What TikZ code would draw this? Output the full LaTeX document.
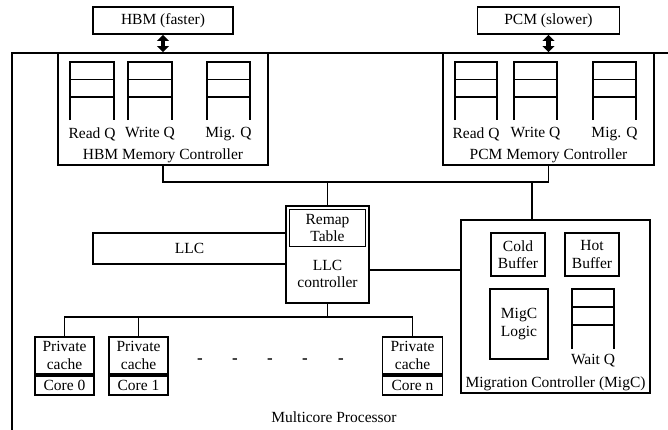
\documentclass[tikz,border=0pt]{standalone}
\usepackage{fontspec}
\setmainfont{Liberation Serif}
\usetikzlibrary{arrows.meta,calc}
\newcommand{\drawqueue}[3]{% x1, x2, ytop
  \draw (#1,#3+58) -- (#1,#3) -- (#2,#3) -- (#2,#3+58);
  \draw (#1,#3+17.5) -- (#2,#3+17.5);
  \draw (#1,#3+35) -- (#2,#3+35);
}
\begin{document}
\begin{tikzpicture}[x=1pt,y=-1pt,line width=1.9pt,
  font=\fontsize{15.5}{17.5}\selectfont,
  box/.style={draw,inner sep=0pt,align=center},
  lbl/.style={inner sep=0pt,align=center},
  dblarrow/.style={line width=4.5pt,{Triangle[width=12pt,length=6pt]}-{Triangle[width=12pt,length=6pt]}}]
\useasboundingbox (0,0) rectangle (668,429);
% outer processor box
\draw (12,440) -- (12,53) -- (680,53);
% memories
\node[box,minimum width=140pt,minimum height=27pt] (hbm) at (163,20.5) {HBM (faster)};
\node[box,minimum width=142pt,minimum height=27pt] (pcm) at (548.5,20.5) {PCM (slower)};
% memory controllers
\node[box,fill=white,minimum width=210pt,minimum height=112pt] (hbmmc) at (163,109) {};
\node[box,fill=white,minimum width=211pt,minimum height=112pt] (pcmmc) at (548.5,109) {};
\draw[dblarrow] (hbm.south) -- (hbmmc.north);
\draw[dblarrow] (pcm.south) -- (pcmmc.north);
% HBM queues
\drawqueue{70}{114}{62}
\drawqueue{128}{172}{62}
\drawqueue{207}{250}{62}
\node[lbl] (hrq) at (92,134) {Read Q};
\node[lbl] (hwq) at (150,134) {Write Q};
\node[lbl] (hmq) at (228.5,134) {Mig. Q};
\node[lbl] (hmcl) at (163,156) {HBM Memory Controller};
% PCM queues
\drawqueue{455}{497}{62}
\drawqueue{514}{557}{62}
\drawqueue{593}{636}{62}
\node[lbl] (prq) at (476,134) {Read Q};
\node[lbl] (pwq) at (535.5,134) {Write Q};
\node[lbl] (pmq) at (614.5,134) {Mig. Q};
\node[lbl] (pmcl) at (548.5,156) {PCM Memory Controller};
% LLC controller
\node[box,minimum width=83pt,minimum height=97pt] (llcctrl) at (327.5,254.5) {};
\node[box,minimum width=76pt,minimum height=37pt] (remap) at (327.5,228) {Remap\\Table};
\node[lbl] (llcctrll) at (327.5,274) {LLC\\controller};
\node[box,minimum width=193pt,minimum height=31pt] (llc) at (189.5,248.5) {LLC};
% Migration controller
\node[box,minimum width=189pt,minimum height=173pt] (migc) at (555.5,306.5) {};
\node[box,minimum width=54pt,minimum height=43pt] (cold) at (518,254.5) {Cold\\Buffer};
\node[box,minimum width=54pt,minimum height=43pt] (hot) at (592,254.5) {Hot\\Buffer};
\node[box,minimum width=58pt,minimum height=70pt] (logic) at (519,324) {MigC\\Logic};
\draw (572,349) -- (572,289) -- (614,289) -- (614,349);
\draw (572,307) -- (614,307);
\draw (572,325) -- (614,325);
\node[lbl] (waitq) at (593,361) {Wait Q};
\node[lbl] (migcl) at (555.5,384) {Migration Controller (MigC)};
% cores
\node[box,minimum width=59pt,minimum height=37pt] (pc0) at (64.5,355.5) {Private\\cache};
\node[box,minimum width=59pt,minimum height=19pt,anchor=north] (c0) at (pc0.south) {Core 0};
\node[box,minimum width=59pt,minimum height=37pt] (pc1) at (138.5,355.5) {Private\\cache};
\node[box,minimum width=59pt,minimum height=19pt,anchor=north] (c1) at (pc1.south) {Core 1};
\node[box,minimum width=60pt,minimum height=37pt] (pcn) at (412.5,355.5) {Private\\cache};
\node[box,minimum width=60pt,minimum height=19pt,anchor=north] (cn) at (pcn.south) {Core n};
\foreach \i/\x in {1/200,2/235,3/270,4/305,5/341}
  \node[lbl,font=\fontsize{17}{17}\selectfont\bfseries] (dash\i) at (\x,361) {-};
\node[lbl] (mp) at (334,417) {Multicore Processor};
% connectors
\coordinate (busy) at (0,182);
\coordinate (cbus) at (0,317);
\draw (hbmmc.south) |- (busy -| pcmmc.south) -- (pcmmc.south);
\draw (llcctrl.north) -- (llcctrl.north |- busy);
\draw ([xshift=72pt]migc.north west) -- ([xshift=72pt]migc.north west |- busy);
\draw ([yshift=-15.5pt]llcctrl.east) -- ([yshift=-15.5pt]llcctrl.east -| migc.west);
\draw (pc0.north) |- (pcn.north |- cbus) -- (pcn.north);
\draw (pc1.north) -- (pc1.north |- cbus);
\draw (llcctrl.south) -- (llcctrl.south |- cbus);
\end{tikzpicture}
\end{document}
